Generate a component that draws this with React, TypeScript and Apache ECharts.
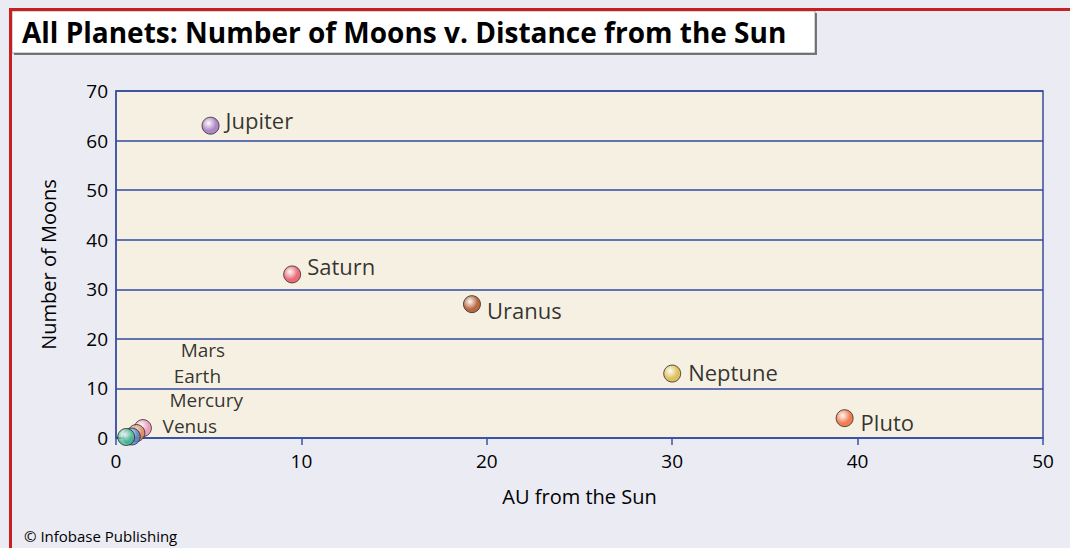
import React, { useEffect, useRef } from "react";
import * as echarts from "echarts";

const planetNames = ["Jupiter", "Saturn", "Uranus", "Neptune", "Pluto", "Mars", "Earth", "Venus", "Mercury"];
const auFromSun = [5.1, 9.5, 19.2, 30.0, 39.3, 1.45, 1.1, 0.85, 0.55];
const moonCounts = [63, 33, 27, 13, 4, 2, 1, 0.3, 0.2];
const planetColors = ["#9b6cc0", "#e84a5f", "#a8461a", "#d9b43a", "#f0602e", "#e88cb8", "#d98a58", "#4f7fd0", "#3fb98a"];
const xTicks = [0, 10, 20, 30, 40, 50];
const yTicks = [0, 10, 20, 30, 40, 50, 60, 70];

const FONT = "'Open Sans', 'Noto Sans', sans-serif";

const labelStyle: Record<string, any> = {
  Jupiter: { position: "right", distance: 6, offset: [0, -6] },
  Saturn: { position: "right", distance: 6, offset: [0, -8] },
  Uranus: { position: "right", distance: 6, offset: [0, 6] },
  Neptune: { position: "right", distance: 7, offset: [0, -2] },
  Pluto: { position: "right", distance: 7, offset: [0, 4] },
  Mars: { position: "inside", offset: [60, -78], fontSize: 19, lineHeight: 19 },
  Earth: { position: "inside", offset: [61, -57], fontSize: 19, lineHeight: 19 },
  Venus: { position: "inside", offset: [58, -11], fontSize: 19, lineHeight: 19 },
  Mercury: { position: "inside", offset: [80, -37], fontSize: 19, lineHeight: 19 },
};

export default function App() {
  const ref = useRef<HTMLDivElement>(null);
  useEffect(() => {
    document.body.style.margin = "0";
    if (!ref.current) return;
    const chart = echarts.init(ref.current, null, { renderer: "svg" });
    const data = planetNames.map((n, i) => ({
      name: n,
      value: [auFromSun[i], moonCounts[i]],
      itemStyle: {
        color: {
          type: "radial",
          x: 0.38,
          y: 0.35,
          r: 0.75,
          colorStops: [
            { offset: 0, color: "#ffffff" },
            { offset: 0.6, color: planetColors[i] },
            { offset: 1, color: planetColors[i] },
          ],
        },
        borderColor: "#2a2a2a",
        borderWidth: 1,
      },
      label: {
        show: true,
        formatter: n,
        color: "#000",
        fontSize: 22,
        lineHeight: 22,
        fontFamily: FONT,
        ...labelStyle[n],
      },
    }));
    chart.setOption({
      animation: false,
      backgroundColor: "#ebebf4",
      graphic: [
        { type: "line", shape: { x1: 9, y1: 9.5, x2: 1070, y2: 9.5 }, style: { stroke: "#c82020", lineWidth: 3 }, z: 10 },
        { type: "line", shape: { x1: 10.5, y1: 8, x2: 10.5, y2: 548 }, style: { stroke: "#c82020", lineWidth: 3 }, z: 10 },
        { type: "rect", shape: { x: 14, y: 13, width: 803, height: 42 }, style: { fill: "#777" }, z: 9 },
        { type: "rect", shape: { x: 12, y: 11, width: 803, height: 42 }, style: { fill: "#ffffff", stroke: "#555", lineWidth: 0.5 }, z: 9 },
        {
          type: "text",
          x: 22,
          y: 32,
          style: { text: "All Planets: Number of Moons v. Distance from the Sun", fontSize: 28, fontWeight: "bold", fontFamily: FONT, fill: "#000", verticalAlign: "middle" },
          z: 11,
        },
        {
          type: "text",
          x: 24,
          y: 536,
          style: { text: "© Infobase Publishing", fontSize: 15, fontFamily: FONT, fill: "#000", verticalAlign: "middle" },
          z: 11,
        },
      ],
      grid: { left: 116, top: 91, right: 27, bottom: 110, show: true, backgroundColor: "#f6f0e2", borderColor: "#3a4e9a", borderWidth: 1.5 },
      xAxis: {
        type: "value",
        min: xTicks[0],
        max: xTicks[xTicks.length - 1],
        interval: 10,
        name: "AU from the Sun",
        nameLocation: "middle",
        nameGap: 48,
        nameTextStyle: { fontSize: 20, fontFamily: FONT, color: "#000" },
        axisLine: { show: true, lineStyle: { color: "#3a55a8", width: 1.5 } },
        axisTick: { show: true, length: 7, lineStyle: { color: "#3a55a8", width: 1.5 } },
        axisLabel: { fontSize: 19, fontFamily: FONT, color: "#000", margin: 13 },
        splitLine: { show: false },
      },
      yAxis: {
        type: "value",
        min: yTicks[0],
        max: yTicks[yTicks.length - 1],
        interval: 10,
        name: "Number of Moons",
        nameLocation: "middle",
        nameGap: 58,
        nameTextStyle: { fontSize: 20, fontFamily: FONT, color: "#000" },
        axisLine: { show: true, lineStyle: { color: "#3a55a8", width: 1.5 } },
        axisTick: { show: false },
        axisLabel: { fontSize: 19, fontFamily: FONT, color: "#000", margin: 8 },
        splitLine: { show: true, lineStyle: { color: "#2f4aa0", width: 1.5 } },
      },
      series: [
        {
          type: "scatter",
          symbol: "circle",
          symbolSize: 17,
          data,
          z: 5,
        },
      ],
    });
    return () => chart.dispose();
  }, []);
  return <div ref={ref} style={{ width: 1070, height: 548 }} />;
}
